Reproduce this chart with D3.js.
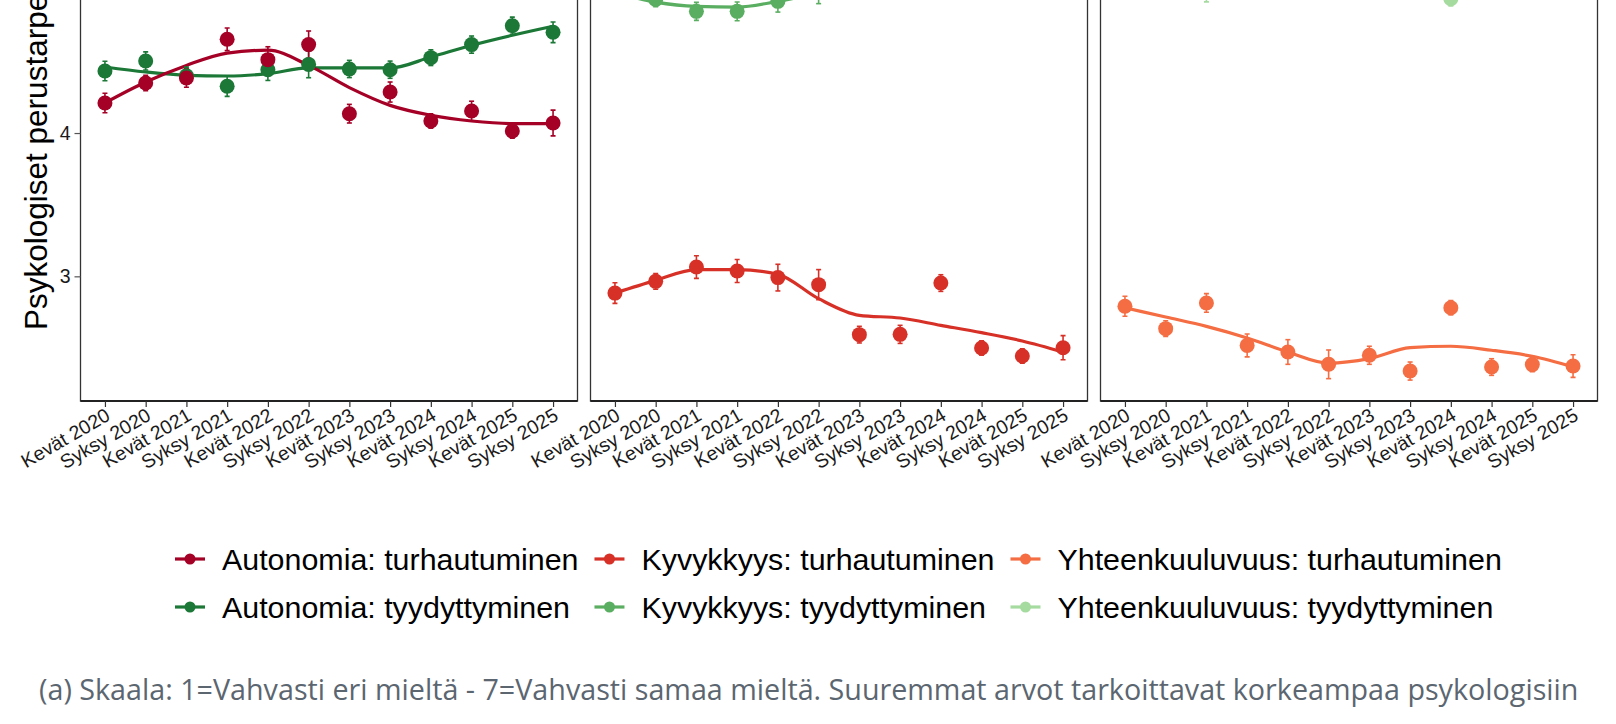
<!DOCTYPE html>
<html lang="fi">
<head>
<meta charset="utf-8">
<title>Psykologiset perustarpeet</title>
<script src="https://cdn.jsdelivr.net/npm/d3@7"></script>
<style>
  html, body { margin: 0; padding: 0; background: #fff; overflow: hidden; }
  svg { display: block; }
</style>
</head>
<body>
<svg id="chart" width="1616" height="724"></svg>
<script>
// Data
const periods = ['Kevät 2020', 'Syksy 2020', 'Kevät 2021', 'Syksy 2021', 'Kevät 2022', 'Syksy 2022',
                 'Kevät 2023', 'Syksy 2023', 'Kevät 2024', 'Syksy 2024', 'Kevät 2025', 'Syksy 2025'];
const panelNames = ['Autonomia', 'Kyvykkyys', 'Yhteenkuuluvuus'];
const yTicks = [3, 4];

const autonomiaTurhautuminen      = [4.21, 4.349, 4.384, 4.654, 4.512, 4.617, 4.135, 4.286, 4.084, 4.154, 4.014, 4.07];
const autonomiaTurhautuminenSe    = [0.068, 0.054, 0.065, 0.079, 0.09, 0.095, 0.065, 0.07, 0.05, 0.068, 0.05, 0.09];
const autonomiaTurhautuminenTrend = [4.21, 4.356, 4.472, 4.558, 4.578, 4.472, 4.317, 4.193, 4.124, 4.084, 4.066, 4.066];

const autonomiaTyydyttyminen      = [4.433, 4.503, 4.40, 4.326, 4.442, 4.479, 4.447, 4.442, 4.526, 4.617, 4.749, 4.703];
const autonomiaTyydyttyminenSe    = [0.068, 0.063, 0.06, 0.07, 0.075, 0.093, 0.06, 0.06, 0.055, 0.06, 0.06, 0.072];
const autonomiaTyydyttyminenTrend = [4.461, 4.426, 4.403, 4.398, 4.414, 4.454, 4.454, 4.454, 4.530, 4.612, 4.682, 4.745];

const kyvykkyysTurhautuminen      = [2.883, 2.965, 3.065, 3.037, 2.991, 2.942, 2.593, 2.595, 2.953, 2.500, 2.444, 2.502];
const kyvykkyysTurhautuminenSe    = [0.072, 0.055, 0.079, 0.08, 0.093, 0.105, 0.058, 0.063, 0.058, 0.05, 0.05, 0.084];
const kyvykkyysTurhautuminenTrend = [2.883, 2.972, 3.047, 3.047, 3.014, 2.844, 2.728, 2.709, 2.658, 2.607, 2.549, 2.472];

const kyvykkyysTyydyttyminen      = [5.03, 4.932, 4.849, 4.849, 4.919, 5.0, 5.06, 5.08, 5.10, 5.12, 5.14, 5.11];
const kyvykkyysTyydyttyminenSe    = [0.07, 0.05, 0.063, 0.065, 0.075, 0.097, 0.07, 0.07, 0.07, 0.07, 0.07, 0.08];
const kyvykkyysTyydyttyminenTrend = [4.98, 4.914, 4.884, 4.879, 4.919, 4.975, 5.02, 5.05, 5.07, 5.09, 5.10, 5.11];

const yhteenkuuluvuusTurhautuminen      = [2.791, 2.635, 2.814, 2.518, 2.472, 2.386, 2.449, 2.339, 2.781, 2.367, 2.384, 2.374];
const yhteenkuuluvuusTurhautuminenSe    = [0.07, 0.055, 0.065, 0.08, 0.086, 0.1, 0.063, 0.063, 0.05, 0.058, 0.05, 0.079];
const yhteenkuuluvuusTurhautuminenTrend = [2.781, 2.716, 2.651, 2.570, 2.472, 2.395, 2.426, 2.502, 2.512, 2.484, 2.442, 2.367];

const yhteenkuuluvuusTyydyttyminen      = [5.22, 5.25, 5.02, 5.18, 5.15, 5.12, 5.14, 5.2, 4.937, 5.16, 5.19, 5.17];
const yhteenkuuluvuusTyydyttyminenSe    = [0.07, 0.07, 0.105, 0.07, 0.07, 0.08, 0.07, 0.07, 0.05, 0.07, 0.07, 0.07];
const yhteenkuuluvuusTyydyttyminenTrend = [5.22, 5.2, 5.17, 5.15, 5.13, 5.12, 5.12, 5.11, 5.10, 5.12, 5.15, 5.17];

const yTitle = 'Psykologiset perustarpeet';
const captionText = '(a) Skaala: 1=Vahvasti eri mieltä - 7=Vahvasti samaa mieltä. Suuremmat arvot tarkoittavat korkeampaa psykologisiin';

(function() {
    'use strict';

    const CONFIG = {
        font: '"Liberation Sans", Arial, sans-serif',
        panel: { left: 80.5, width: 497, gap: 13, top: -120, bottom: 401 },
        yDomain: [2.13, 5.6],
        yUnit: 143.3,
        pointRadius: 7.5,
        trendWidth: 3.2,
        tickFont: 19.5,
        legendFont: 30.4,
        colors: {
            'Autonomia: turhautuminen': '#A50026',
            'Autonomia: tyydyttyminen': '#1B7837',
            'Kyvykkyys: turhautuminen': '#D73027',
            'Kyvykkyys: tyydyttyminen': '#5AAE61',
            'Yhteenkuuluvuus: turhautuminen': '#F46D43',
            'Yhteenkuuluvuus: tyydyttyminen': '#A6DBA0'
        }
    };

    // Series grouped per panel; satisfaction drawn first so frustration sits on top
    const panels = [
        { name: panelNames[0], series: [
            { key: 'Autonomia: tyydyttyminen', values: autonomiaTyydyttyminen, se: autonomiaTyydyttyminenSe, trend: autonomiaTyydyttyminenTrend },
            { key: 'Autonomia: turhautuminen', values: autonomiaTurhautuminen, se: autonomiaTurhautuminenSe, trend: autonomiaTurhautuminenTrend }
        ]},
        { name: panelNames[1], series: [
            { key: 'Kyvykkyys: tyydyttyminen', values: kyvykkyysTyydyttyminen, se: kyvykkyysTyydyttyminenSe, trend: kyvykkyysTyydyttyminenTrend },
            { key: 'Kyvykkyys: turhautuminen', values: kyvykkyysTurhautuminen, se: kyvykkyysTurhautuminenSe, trend: kyvykkyysTurhautuminenTrend }
        ]},
        { name: panelNames[2], series: [
            { key: 'Yhteenkuuluvuus: tyydyttyminen', values: yhteenkuuluvuusTyydyttyminen, se: yhteenkuuluvuusTyydyttyminenSe, trend: yhteenkuuluvuusTyydyttyminenTrend },
            { key: 'Yhteenkuuluvuus: turhautuminen', values: yhteenkuuluvuusTurhautuminen, se: yhteenkuuluvuusTurhautuminenSe, trend: yhteenkuuluvuusTurhautuminenTrend }
        ]}
    ];

    const legendRows = [
        ['Autonomia: turhautuminen', 'Kyvykkyys: turhautuminen', 'Yhteenkuuluvuus: turhautuminen'],
        ['Autonomia: tyydyttyminen', 'Kyvykkyys: tyydyttyminen', 'Yhteenkuuluvuus: tyydyttyminen']
    ];

    const svg = d3.select('#chart');
    const P = CONFIG.panel;

    const y = d3.scaleLinear()
        .domain(CONFIG.yDomain)
        .range([P.bottom, P.bottom - (CONFIG.yDomain[1] - CONFIG.yDomain[0]) * CONFIG.yUnit]);

    const panelTop = y(CONFIG.yDomain[1]);

    panels.forEach((panel, i) => {
        const x0 = P.left + i * (P.width + P.gap);
        const x = d3.scalePoint()
            .domain(periods)
            .range([x0, x0 + P.width])
            .padding(0.6);

        const g = svg.append('g').attr('class', 'panel');

        const clipId = 'clip-' + i;
        svg.append('clipPath').attr('id', clipId)
            .append('rect')
            .attr('x', x0).attr('y', panelTop)
            .attr('width', P.width).attr('height', P.bottom - panelTop);

        const plot = g.append('g').attr('clip-path', `url(#${clipId})`);

        // Smoothed trends
        const line = d3.line()
            .x((d, j) => x(periods[j]))
            .y(d => y(d))
            .curve(d3.curveMonotoneX);

        plot.selectAll('path.trend')
            .data(panel.series)
            .join('path')
            .attr('class', 'trend')
            .attr('d', s => line(s.trend))
            .attr('fill', 'none')
            .attr('stroke', s => CONFIG.colors[s.key])
            .attr('stroke-width', CONFIG.trendWidth)
            .attr('stroke-linejoin', 'round');

        // Error bars
        panel.series.forEach(s => {
            const rows = s.values.map((v, j) => ({ p: periods[j], v: v, se: s.se[j] }));
            const eb = plot.append('g')
                .attr('stroke', CONFIG.colors[s.key])
                .attr('stroke-width', 1.6);
            eb.selectAll('line.bar')
                .data(rows)
                .join('line')
                .attr('x1', d => x(d.p)).attr('x2', d => x(d.p))
                .attr('y1', d => y(d.v - d.se)).attr('y2', d => y(d.v + d.se));
            eb.selectAll('line.capTop')
                .data(rows)
                .join('line')
                .attr('x1', d => x(d.p) - 2.5).attr('x2', d => x(d.p) + 2.5)
                .attr('y1', d => y(d.v + d.se)).attr('y2', d => y(d.v + d.se));
            eb.selectAll('line.capBottom')
                .data(rows)
                .join('line')
                .attr('x1', d => x(d.p) - 2.5).attr('x2', d => x(d.p) + 2.5)
                .attr('y1', d => y(d.v - d.se)).attr('y2', d => y(d.v - d.se));
        });

        // Points
        panel.series.forEach(s => {
            plot.append('g').selectAll('circle')
                .data(s.values)
                .join('circle')
                .attr('cx', (d, j) => x(periods[j]))
                .attr('cy', d => y(d))
                .attr('r', CONFIG.pointRadius)
                .attr('fill', CONFIG.colors[s.key]);
        });

        // Panel border
        g.append('rect')
            .attr('x', x0).attr('y', panelTop)
            .attr('width', P.width).attr('height', P.bottom - panelTop)
            .attr('fill', 'none')
            .attr('stroke', '#333')
            .attr('stroke-width', 1.3);
        g.append('line')
            .attr('x1', x0).attr('x2', x0 + P.width)
            .attr('y1', P.bottom).attr('y2', P.bottom)
            .attr('stroke', '#222')
            .attr('stroke-width', 2);

        // X axis
        const xAxis = g.append('g')
            .attr('transform', `translate(0,${P.bottom})`)
            .call(d3.axisBottom(x).tickSize(6).tickSizeOuter(0));
        xAxis.select('.domain').remove();
        xAxis.selectAll('.tick line').attr('stroke', '#333').attr('stroke-width', 1.2);
        xAxis.selectAll('.tick text')
            .attr('font-family', CONFIG.font)
            .attr('font-size', CONFIG.tickFont)
            .attr('fill', '#1a1a1a')
            .attr('text-anchor', 'end')
            .attr('dy', '0.72em')
            .attr('y', 0)
            .attr('transform', 'translate(-1,6) rotate(-30)');

        // Y axis on the first panel only
        if (i === 0) {
            const yAxis = g.append('g')
                .attr('transform', `translate(${x0},0)`)
                .call(d3.axisLeft(y).tickValues(yTicks).tickFormat(d3.format('d')).tickSize(6).tickPadding(4));
            yAxis.select('.domain').remove();
            yAxis.selectAll('.tick line').attr('stroke', '#555').attr('stroke-width', 1.2);
            yAxis.selectAll('.tick text')
                .attr('font-family', CONFIG.font)
                .attr('font-size', CONFIG.tickFont)
                .attr('fill', '#1a1a1a');
        }
    });

    // Y axis title
    svg.append('text')
        .attr('transform', 'translate(47,330) rotate(-90)')
        .attr('font-family', CONFIG.font)
        .attr('font-size', 31.5)
        .attr('fill', '#000')
        .text(yTitle);

    // Legend
    const legend = svg.append('g').attr('class', 'legend');
    const keyW = 30, textOffset = 47, colGap = 16;
    const rowY = [559, 607];

    // measure column widths
    const measure = legend.append('text')
        .attr('font-family', CONFIG.font)
        .attr('font-size', CONFIG.legendFont);
    const colWidths = legendRows[0].map((_, c) => d3.max(legendRows, r => {
        measure.text(r[c]);
        return measure.node().getComputedTextLength();
    }));
    measure.remove();

    const colX = [];
    let cx = 175;
    colWidths.forEach(w => { colX.push(cx); cx += textOffset + w + colGap; });

    legendRows.forEach((row, r) => {
        row.forEach((key, c) => {
            const item = legend.append('g')
                .attr('transform', `translate(${colX[c]},${rowY[r]})`);
            item.append('line')
                .attr('x1', 0).attr('x2', keyW)
                .attr('stroke', CONFIG.colors[key])
                .attr('stroke-width', CONFIG.trendWidth);
            item.append('circle')
                .attr('cx', keyW / 2).attr('r', 5.5)
                .attr('fill', CONFIG.colors[key]);
            item.append('text')
                .attr('x', textOffset)
                .attr('dy', '0.35em')
                .attr('font-family', CONFIG.font)
                .attr('font-size', CONFIG.legendFont)
                .attr('fill', '#000')
                .text(key);
        });
    });

    // Caption
    svg.append('text')
        .attr('x', 39)
        .attr('y', 700)
        .attr('font-family', '"Open Sans", "Noto Sans", sans-serif')
        .attr('font-size', 28.7)
        .attr('fill', '#5b6670')
        .text(captionText);
})();
</script>
</body>
</html>
